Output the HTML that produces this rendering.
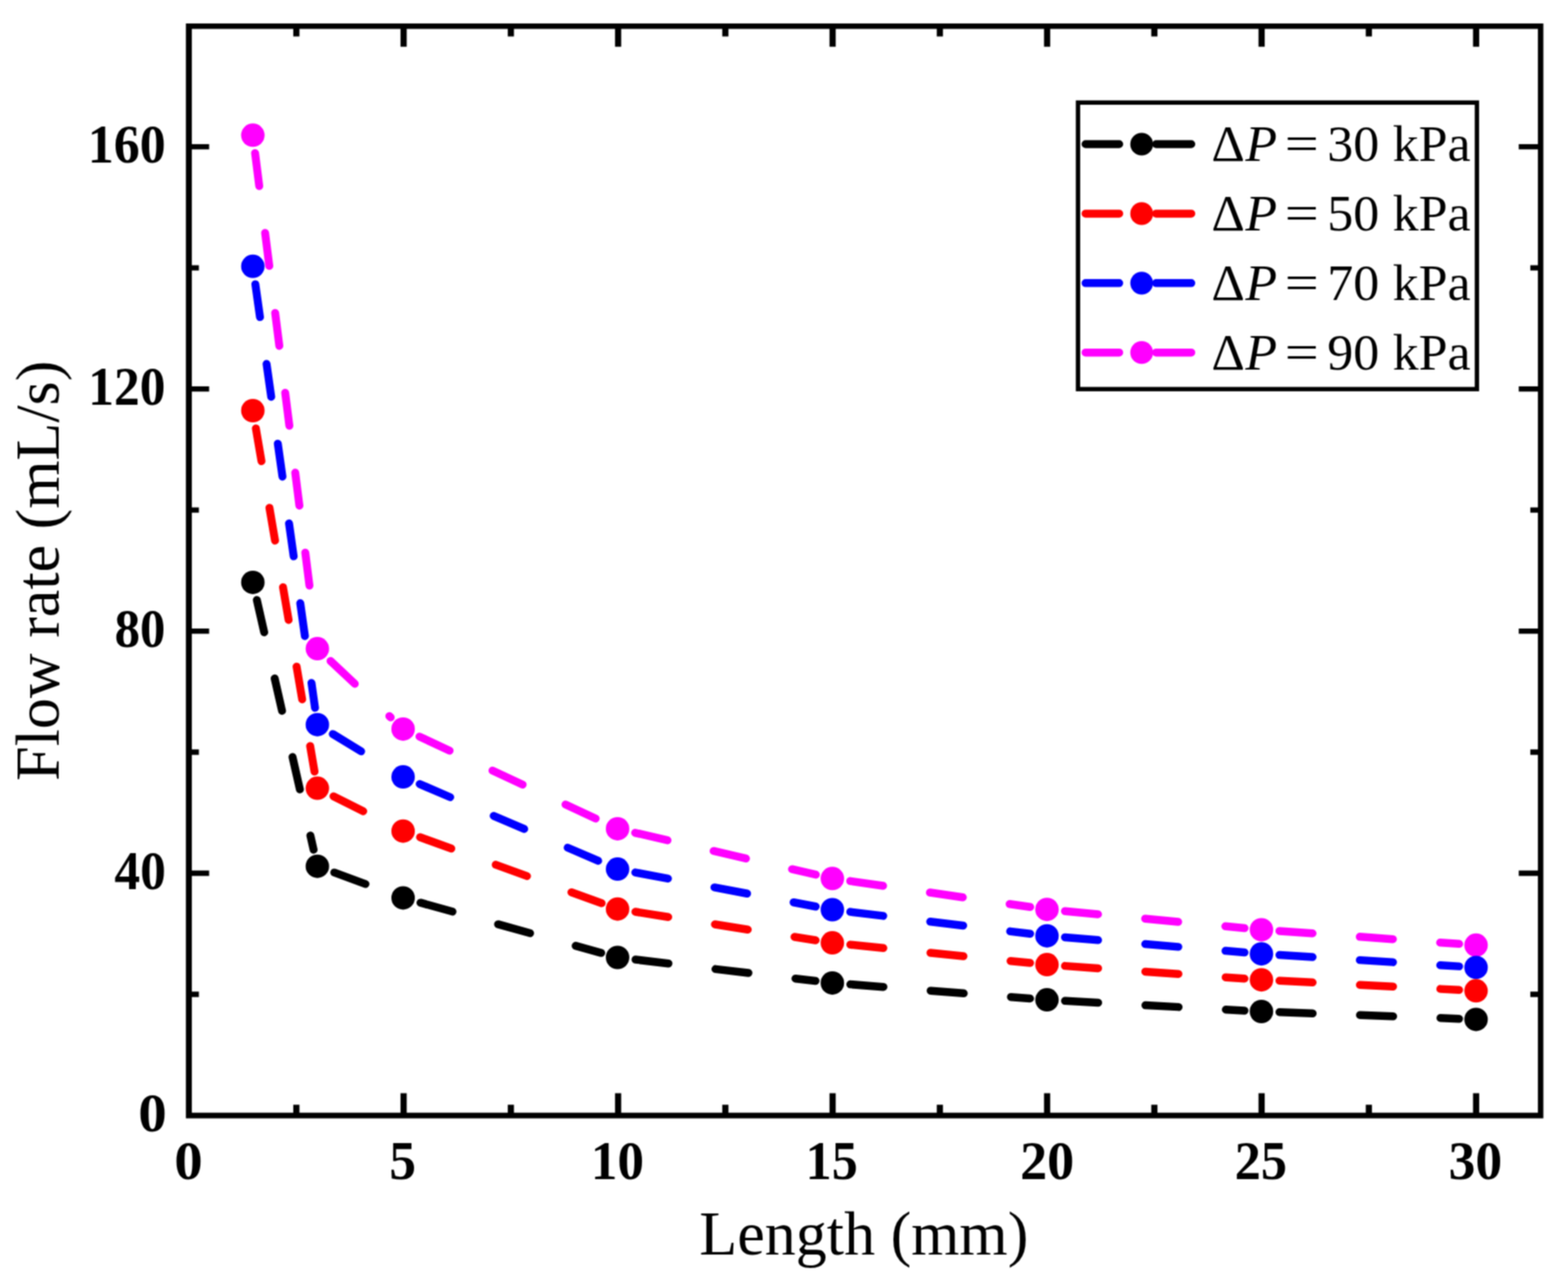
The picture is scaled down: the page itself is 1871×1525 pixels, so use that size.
<!DOCTYPE html><html><head><meta charset="utf-8"><title>Flow rate vs Length</title>
<style>html,body{margin:0;padding:0;background:#fff;overflow:hidden}svg{display:block}text{font-family:"Liberation Serif","Times New Roman",serif;fill:#000}</style></head><body>
<svg width="1871" height="1525" viewBox="0 0 1871 1525">
<defs><filter id="soft" color-interpolation-filters="sRGB" filterUnits="userSpaceOnUse" x="0" y="0" width="1871" height="1525"><feConvolveMatrix order="3" kernelMatrix="1 2 1 2 4 2 1 2 1" divisor="16" edgeMode="duplicate"/></filter></defs>
<g filter="url(#soft)"><rect width="1871" height="1525" fill="#fff"/>
<path d="M304.39 182.68L376.18 754.01M394.43 788.83L466.22 856.06M500.54 878.99L718.54 980.36M757.89 993.77L973.47 1043.73M1014.53 1051.37L1229.26 1082.31M1270.75 1087.23L1485.04 1107.49M1526.69 1110.94L1741.1 1126.35" fill="none" stroke="#ff00ff" stroke-width="9.5" stroke-linecap="round" stroke-dasharray="39.6 56.5"/>
<g fill="#ff00ff"><circle cx="301.7" cy="161.3" r="14.0"/><circle cx="378.7" cy="774.1" r="14.0"/><circle cx="481" cy="869.9" r="14.0"/><circle cx="736.9" cy="988.9" r="14.0"/><circle cx="993.2" cy="1048.3" r="14.0"/><circle cx="1249.3" cy="1085.2" r="14.0"/><circle cx="1505.2" cy="1109.4" r="14.0"/><circle cx="1761.3" cy="1127.8" r="14.0"/></g>
<path d="M304.7 339.14L375.88 844.65M397.1 875.92L463.71 916.55M500.8 935.61L718.3 1029.1M758.08 1041.1L973.3 1081.74M1014.59 1088.11L1229.2 1114.25M1270.77 1118.5L1485.02 1136.5M1526.71 1139.56L1741.09 1153.12" fill="none" stroke="#0000ff" stroke-width="9.5" stroke-linecap="round" stroke-dasharray="39.6 56.5"/>
<g fill="#0000ff"><circle cx="301.7" cy="317.8" r="14.0"/><circle cx="378.7" cy="864.7" r="14.0"/><circle cx="481" cy="927.1" r="14.0"/><circle cx="736.9" cy="1037.1" r="14.0"/><circle cx="993.2" cy="1085.5" r="14.0"/><circle cx="1249.3" cy="1116.7" r="14.0"/><circle cx="1505.2" cy="1138.2" r="14.0"/><circle cx="1761.3" cy="1154.4" r="14.0"/></g>
<path d="M305.33 511.24L375.29 920.64M397.98 950.23L462.88 982.65M501.25 999.06L717.87 1077.78M758.19 1088.06L973.2 1121.95M1014.64 1127.28L1229.15 1149.05M1270.8 1152.62L1485 1167.77M1526.72 1170.3L1741.08 1181.27" fill="none" stroke="#ff0000" stroke-width="9.5" stroke-linecap="round" stroke-dasharray="39.6 56.5"/>
<g fill="#ff0000"><circle cx="301.7" cy="490" r="14.0"/><circle cx="378.7" cy="940.6" r="14.0"/><circle cx="481" cy="991.7" r="14.0"/><circle cx="736.9" cy="1084.7" r="14.0"/><circle cx="993.2" cy="1125.1" r="14.0"/><circle cx="1249.3" cy="1151.1" r="14.0"/><circle cx="1505.2" cy="1169.2" r="14.0"/><circle cx="1761.3" cy="1182.3" r="14.0"/></g>
<path d="M306.48 715.91L374.21 1013.95M398.92 1041.15L462 1064.4M501.76 1077.17L717.39 1137.08M758.3 1145.04L973.09 1170.51M1014.68 1174.59L1229.11 1191.51M1270.82 1194.27L1484.98 1205.9M1526.74 1207.79L1741.06 1215.66" fill="none" stroke="#000000" stroke-width="9.5" stroke-linecap="round" stroke-dasharray="39.6 56.5"/>
<g fill="#000000"><circle cx="301.7" cy="694.9" r="14.0"/><circle cx="378.7" cy="1033.7" r="14.0"/><circle cx="481" cy="1071.4" r="14.0"/><circle cx="736.9" cy="1142.5" r="14.0"/><circle cx="993.2" cy="1172.9" r="14.0"/><circle cx="1249.3" cy="1193.1" r="14.0"/><circle cx="1505.2" cy="1207" r="14.0"/><circle cx="1761.3" cy="1216.4" r="14.0"/></g>
<path d="M353.63 1331.1V1318.3M353.63 31.2V43.4M481.61 1331.1V1304.6M481.61 31.2V55.8M609.58 1331.1V1318.3M609.58 31.2V43.4M737.56 1331.1V1304.6M737.56 31.2V55.8M865.53 1331.1V1318.3M865.53 31.2V43.4M993.51 1331.1V1304.6M993.51 31.2V55.8M1121.48 1331.1V1318.3M1121.48 31.2V43.4M1249.46 1331.1V1304.6M1249.46 31.2V55.8M1377.43 1331.1V1318.3M1377.43 31.2V43.4M1505.41 1331.1V1304.6M1505.41 31.2V55.8M1633.38 1331.1V1318.3M1633.38 31.2V43.4M1761.36 1331.1V1304.6M1761.36 31.2V55.8" stroke="#000" stroke-width="7.4" fill="none"/>
<path d="M225.35 1186.52H237.35M1838.35 1186.52H1826.05M225.35 1042.04H249.55M1838.35 1042.04H1812.25M225.35 897.56H237.35M1838.35 897.56H1826.05M225.35 753.08H249.55M1838.35 753.08H1812.25M225.35 608.6H237.35M1838.35 608.6H1826.05M225.35 464.12H249.55M1838.35 464.12H1812.25M225.35 319.64H237.35M1838.35 319.64H1826.05M225.35 175.16H249.55M1838.35 175.16H1812.25" stroke="#000" stroke-width="6.4" fill="none"/>
<path fill-rule="evenodd" fill="#000" d="M221.8 28.0H1841.6V1334.4H221.8Z M228.9 34.4V1327.8H1835.1V34.4Z"/>
<g font-weight="bold" font-size="66"><text x="207.92" y="1407" textLength="33.86" lengthAdjust="spacingAndGlyphs">0</text><text x="464.6" y="1407" textLength="31.94" lengthAdjust="spacingAndGlyphs">5</text><text x="704.99" y="1407" textLength="63.5" lengthAdjust="spacingAndGlyphs">10</text><text x="961.29" y="1407" textLength="62.2" lengthAdjust="spacingAndGlyphs">15</text><text x="1217.27" y="1407" textLength="64.57" lengthAdjust="spacingAndGlyphs">20</text><text x="1473.26" y="1407" textLength="62.43" lengthAdjust="spacingAndGlyphs">25</text><text x="1728.5" y="1407" textLength="63.91" lengthAdjust="spacingAndGlyphs">30</text><text x="165.11" y="1349.8" textLength="33.98" lengthAdjust="spacingAndGlyphs">0</text><text x="136.47" y="1060.84" textLength="61.42" lengthAdjust="spacingAndGlyphs">40</text><text x="136.76" y="771.88" textLength="60.7" lengthAdjust="spacingAndGlyphs">80</text><text x="105.35" y="482.92" textLength="92.15" lengthAdjust="spacingAndGlyphs">120</text><text x="104.7" y="193.96" textLength="93.02" lengthAdjust="spacingAndGlyphs">160</text></g>
<text x="1030.8" y="1497" font-size="74" text-anchor="middle">Length (mm)</text>
<text transform="translate(69.5 681) rotate(-90)" font-size="74" text-anchor="middle">Flow rate (mL/s)</text>
<rect x="1286.3" y="122.4" width="476" height="341.9" fill="#fff" stroke="#000" stroke-width="5.2"/>
<path d="M1295.3 172H1335.5M1379.5 172H1421.5" stroke="#000000" stroke-width="9.5" stroke-linecap="round"/>
<circle cx="1362.3" cy="172" r="13.6" fill="#000000"/>
<text y="192.2" font-size="62"><tspan x="1445.4">&#916;</tspan><tspan x="1486" font-style="italic">P</tspan> <tspan x="1532.9" textLength="40.6" lengthAdjust="spacingAndGlyphs">=</tspan> <tspan x="1583.8">30</tspan> <tspan x="1661.7">kPa</tspan></text>
<path d="M1295.3 254.9H1335.5M1379.5 254.9H1421.5" stroke="#ff0000" stroke-width="9.5" stroke-linecap="round"/>
<circle cx="1362.3" cy="254.9" r="13.6" fill="#ff0000"/>
<text y="275.1" font-size="62"><tspan x="1445.4">&#916;</tspan><tspan x="1486" font-style="italic">P</tspan> <tspan x="1532.9" textLength="40.6" lengthAdjust="spacingAndGlyphs">=</tspan> <tspan x="1583.8">50</tspan> <tspan x="1661.7">kPa</tspan></text>
<path d="M1295.3 337.8H1335.5M1379.5 337.8H1421.5" stroke="#0000ff" stroke-width="9.5" stroke-linecap="round"/>
<circle cx="1362.3" cy="337.8" r="13.6" fill="#0000ff"/>
<text y="358" font-size="62"><tspan x="1445.4">&#916;</tspan><tspan x="1486" font-style="italic">P</tspan> <tspan x="1532.9" textLength="40.6" lengthAdjust="spacingAndGlyphs">=</tspan> <tspan x="1583.8">70</tspan> <tspan x="1661.7">kPa</tspan></text>
<path d="M1295.3 420.7H1335.5M1379.5 420.7H1421.5" stroke="#ff00ff" stroke-width="9.5" stroke-linecap="round"/>
<circle cx="1362.3" cy="420.7" r="13.6" fill="#ff00ff"/>
<text y="440.9" font-size="62"><tspan x="1445.4">&#916;</tspan><tspan x="1486" font-style="italic">P</tspan> <tspan x="1532.9" textLength="40.6" lengthAdjust="spacingAndGlyphs">=</tspan> <tspan x="1583.8">90</tspan> <tspan x="1661.7">kPa</tspan></text>
</g></svg></body></html>
